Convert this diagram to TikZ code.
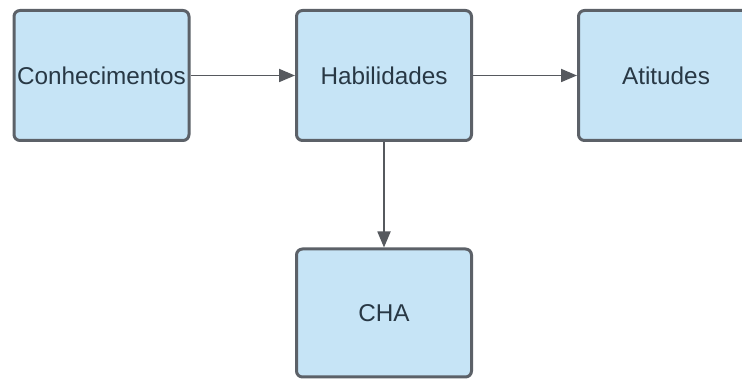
\documentclass[tikz,border=0pt]{standalone}
\usepackage{fontspec}
\setmainfont{Liberation Sans}
\usetikzlibrary{arrows.meta}
\definecolor{boxfill}{HTML}{C6E4F6}
\definecolor{boxline}{HTML}{5C6168}
\definecolor{txt}{HTML}{283845}
\definecolor{arr}{HTML}{56595E}
\begin{document}
\begin{tikzpicture}[x=1pt,y=-1pt,
  box/.style={draw=boxline,fill=boxfill,line width=3pt,rounded corners=6pt,
    text=txt,font=\fontsize{24.3}{28}\selectfont,inner sep=0pt},
  conn/.style={draw=arr,line width=1.8pt,-{Triangle[length=16pt,width=13pt]}}]
\useasboundingbox (0,0) rectangle (742,379);
\clip (0,0) rectangle (742,379);
\fill[white] (0,0) rectangle (742,379);
\node[box,minimum width=175pt,minimum height=130pt] (c) at (101.5,75.5) {Conhecimentos};
\node[box,minimum width=175pt,minimum height=130pt] (h) at (384,75.5) {Habilidades};
\node[box,minimum width=175pt,minimum height=130pt] (a) at (666,75.5) {Atitudes};
\node[box,minimum width=175pt,minimum height=128pt] (cha) at (384,313) {CHA};
\draw[conn] (c) -- (h);
\draw[conn] (h) -- (a);
\draw[conn] (h) -- (cha);
\end{tikzpicture}
\end{document}
